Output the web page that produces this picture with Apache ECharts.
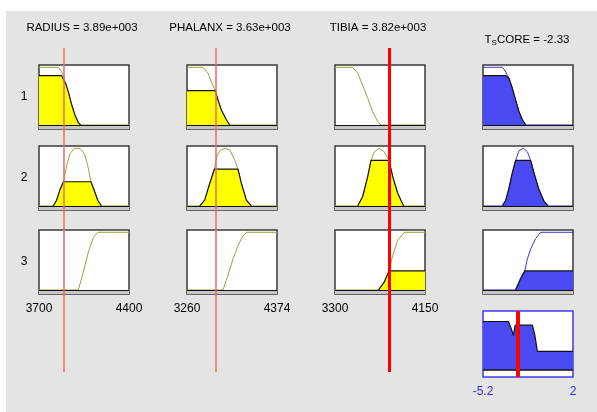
<!DOCTYPE html>
<html>
<head>
<meta charset="utf-8">
<script src="https://cdn.jsdelivr.net/npm/echarts@6/dist/echarts.min.js"></script>
<style>
  body { margin: 0; background: #fff; }
  #bg { position: absolute; left: 6px; top: 11px; width: 591px; height: 401px; background: #e4e4e4; }
  #chart { position: absolute; left: 0; top: 0; width: 597px; height: 412px; }
</style>
</head>
<body>
<div id="bg"></div>
<div id="chart"></div>
<script>
// input / output ranges
const radiusRange = [3700, 4400]
const phalanxRange = [3260, 4374]
const tibiaRange = [3300, 4150]
const scoreRange = [-5.2, 2]

const titles = ['RADIUS = 3.89e+003', 'PHALANX = 3.63e+003', 'TIBIA = 3.82e+003']
const outTitle = ['T', 'S', 'CORE = -2.33']
const ruleLabels = ['1', '2', '3']

// crisp values (red lines)
const inputValues = [3890, 3610, 3810]
const outputValue = -2.4

// firing level of each rule, per variable
const radiusLevels = [0.855, 0.42, 0]
const phalanxLevels = [0.595, 0.64, 0]
const tibiaLevels = [0, 0.79, 0.33]
const scoreLevels = [0.855, 0.79, 0.33]

// membership functions
const radiusMF1 = [[3700, 1], [3850, 1], [3876, 0.925], [3890, 0.855], [3910, 0.7], [3930, 0.56], [3954, 0.35], [3980, 0.17], [4006, 0.04], [4024, 0], [4400, 0]]
const radiusMF2 = [[3700, 0], [3811, 0], [3837, 0.1], [3863, 0.28], [3890, 0.42], [3915, 0.7], [3941, 0.91], [3975, 1], [4019, 1], [4053, 0.91], [4079, 0.7], [4104, 0.42], [4131, 0.26], [4157, 0.1], [4185, 0], [4400, 0]]
const radiusMF3 = [[3700, 0], [4006, 0], [4045, 0.31], [4084, 0.66], [4123, 0.91], [4157, 1], [4400, 1]]

const phalanxMF1 = [[3260, 1], [3458, 1], [3520, 0.9], [3561, 0.75], [3610, 0.595], [3644, 0.43], [3685, 0.26], [3747, 0.09], [3788, 0], [4374, 0]]
const phalanxMF2 = [[3260, 0], [3417, 0], [3479, 0.1], [3541, 0.39], [3600, 0.64], [3630, 0.86], [3665, 0.96], [3727, 1], [3789, 0.97], [3850, 0.8], [3891, 0.64], [3933, 0.39], [3995, 0.1], [4056, 0], [4374, 0]]
const phalanxMF3 = [[3260, 0], [3706, 0], [3768, 0.26], [3830, 0.54], [3891, 0.77], [3953, 0.94], [4003, 1], [4374, 1]]

const tibiaMF1 = [[3300, 1], [3467, 1], [3514, 0.9], [3561, 0.69], [3609, 0.46], [3656, 0.23], [3703, 0.06], [3734, 0], [4150, 0]]
const tibiaMF2 = [[3300, 0], [3514, 0], [3561, 0.16], [3609, 0.51], [3640, 0.79], [3671, 0.94], [3718, 1], [3765, 0.94], [3810, 0.79], [3845, 0.51], [3892, 0.22], [3948, 0], [4150, 0]]
const tibiaMF3 = [[3300, 0], [3712, 0], [3766, 0.14], [3810, 0.33], [3845, 0.6], [3892, 0.86], [3954, 1], [4150, 1]]

const scoreMF1 = [[-5.2, 1], [-3.65, 1], [-3.38, 0.92], [-3.25, 0.855], [-3.12, 0.81], [-2.86, 0.64], [-2.59, 0.43], [-2.32, 0.23], [-2.05, 0.09], [-1.78, 0], [2, 0]]
const scoreMF2 = [[-5.2, 0], [-3.65, 0], [-3.38, 0.1], [-3.12, 0.31], [-2.86, 0.57], [-2.59, 0.79], [-2.32, 0.96], [-1.97, 1], [-1.65, 0.94], [-1.39, 0.79], [-1.12, 0.57], [-0.72, 0.28], [-0.32, 0.08], [0, 0], [2, 0]]
const scoreMF3 = [[-5.2, 0], [-2.59, 0], [-2.19, 0.2], [-1.86, 0.33], [-1.65, 0.54], [-1.39, 0.71], [-0.99, 0.89], [-0.59, 1], [2, 1]]

// aggregated output
const aggregate = [[-5.2, 0.855], [-3.17, 0.855], [-2.93, 0.72], [-2.77, 0.61], [-2.62, 0.79], [-1.25, 0.79], [-1.04, 0.6], [-0.85, 0.33], [2, 0.33]]

const olive = '#a29e3e'
const blueLine = '#3c3cc8'
const yellow = '#ffff00'
const blue = '#4a4af2'
const font = '"Liberation Sans", Arial, sans-serif'

const columns = [
  { range: radiusRange, mfs: [radiusMF1, radiusMF2, radiusMF3], levels: radiusLevels, line: olive, fill: yellow, out: false },
  { range: phalanxRange, mfs: [phalanxMF1, phalanxMF2, phalanxMF3], levels: phalanxLevels, line: olive, fill: yellow, out: false },
  { range: tibiaRange, mfs: [tibiaMF1, tibiaMF2, tibiaMF3], levels: tibiaLevels, line: olive, fill: yellow, out: false },
  { range: scoreRange, mfs: [scoreMF1, scoreMF2, scoreMF3], levels: scoreLevels, line: blueLine, fill: blue, out: true }
]

const colLeft = [39, 187, 335, 483]
const rowTop = [65, 146, 230]
const W = 90
const H = 64

// clip a membership function at the rule's firing level
function clipped(points, level) {
  const pts = points.map(p => [p[0], Math.min(p[1], level)])
  let first = pts.findIndex(p => p[1] > 0)
  let last = -1
  pts.forEach((p, i) => { if (p[1] > 0) last = i })
  return pts.slice(Math.max(first - 1, 0), last + 2)
}

function edgeLabels(lo, hi, color) {
  return {
    show: true,
    showMinLabel: true,
    showMaxLabel: true,
    margin: 9,
    color: color,
    fontSize: 12,
    fontFamily: font,
    formatter: v => (v === lo || v === hi ? String(v) : '')
  }
}

const grid = []
const xAxis = []
const yAxis = []
const series = []

columns.forEach((col, c) => {
  col.mfs.forEach((mf, r) => {
    const i = grid.length
    grid.push({
      left: colLeft[c], top: rowTop[r], width: W, height: H,
      show: true, backgroundColor: '#fff', borderColor: '#3a3a3a', borderWidth: 1.5
    })
    const showLabels = r === 2 && !col.out
    xAxis.push({
      gridIndex: i, type: 'value', min: col.range[0], max: col.range[1],
      show: showLabels,
      axisLine: { show: false }, axisTick: { show: false }, splitLine: { show: false },
      axisLabel: edgeLabels(col.range[0], col.range[1], '#000')
    })
    yAxis.push({ gridIndex: i, type: 'value', min: -0.07, max: 1.04, show: false })

    // baseline band
    series.push({
      type: 'line', xAxisIndex: i, yAxisIndex: i, data: [], z: col.out ? 1 : 5, silent: true,
      markArea: { silent: true, itemStyle: { color: '#c6c6c6' }, data: [[{ yAxis: -0.07 }, { yAxis: 0 }]] },
      markLine: { silent: true, symbol: 'none', label: { show: false }, lineStyle: { color: '#111', width: 1.2, type: 'solid' }, data: [{ yAxis: 0 }] }
    })
    // membership function
    series.push({
      type: 'line', xAxisIndex: i, yAxisIndex: i, data: mf, symbol: 'none', z: 3, silent: true,
      lineStyle: { color: col.line, width: 1 }
    })
    // clipped area
    const level = col.levels[r]
    if (level > 0) {
      series.push({
        type: 'line', xAxisIndex: i, yAxisIndex: i, data: clipped(mf, level), symbol: 'none', z: 4, silent: true,
        lineStyle: { color: '#111', width: 1.2 },
        areaStyle: { color: col.fill, opacity: 1 }
      })
    }
  })
})

// aggregated output panel
const ag = grid.length
grid.push({ left: 483, top: 311, width: W, height: 66, show: true, backgroundColor: '#fff', borderColor: '#3c3cf0', borderWidth: 1.5 })
xAxis.push({
  gridIndex: ag, type: 'value', min: scoreRange[0], max: scoreRange[1],
  axisLine: { show: false }, axisTick: { show: false }, splitLine: { show: false },
  axisLabel: edgeLabels(scoreRange[0], scoreRange[1], '#3030d8')
})
yAxis.push({ gridIndex: ag, type: 'value', min: -0.123, max: 1.04, show: false })
series.push({
  type: 'line', xAxisIndex: ag, yAxisIndex: ag, data: aggregate, symbol: 'none', z: 4, silent: true,
  lineStyle: { color: '#111', width: 1.2 },
  areaStyle: { color: blue, opacity: 1 },
  markLine: {
    silent: true, symbol: 'none', label: { show: false },
    data: [
      { yAxis: 0, lineStyle: { color: '#111', width: 1.5, type: 'solid' } },
      { xAxis: outputValue, lineStyle: { color: '#ff0000', width: 4, type: 'solid' } }
    ]
  }
})

// red input lines, running through all three rule rows
inputValues.forEach((v, c) => {
  const i = grid.length
  grid.push({ left: colLeft[c], top: 48, width: W, height: 324, show: false })
  xAxis.push({ gridIndex: i, type: 'value', min: columns[c].range[0], max: columns[c].range[1], show: false })
  yAxis.push({ gridIndex: i, type: 'value', min: 0, max: 1, show: false })
  series.push({
    type: 'line', xAxisIndex: i, yAxisIndex: i, data: [], z: 10, silent: true,
    markLine: {
      silent: true, symbol: 'none', label: { show: false },
      lineStyle: c === 2 ? { color: '#ff0000', width: 3, type: 'solid' } : { color: '#f06868', width: 1.5, type: 'solid' },
      data: [{ xAxis: v }]
    }
  })
})

// texts
const graphic = []
const titleX = [82, 230, 378]
titles.forEach((t, c) => {
  graphic.push({
    type: 'text', x: titleX[c], y: 28, silent: true,
    style: { text: t, font: '11.5px ' + font, fill: '#000', align: 'center', verticalAlign: 'middle' }
  })
})
graphic.push({
  type: 'text', x: 527, y: 40, silent: true,
  style: {
    text: '{a|' + outTitle[0] + '}{s|' + outTitle[1] + '}{a|' + outTitle[2] + '}',
    align: 'center', verticalAlign: 'middle',
    rich: {
      a: { fontSize: 11.5, fontFamily: font, color: '#000', lineHeight: 14 },
      s: { fontSize: 8, fontFamily: font, color: '#000', lineHeight: 8, verticalAlign: 'bottom', padding: [8, 0, 0, 0] }
    }
  }
})
ruleLabels.forEach((t, r) => {
  graphic.push({
    type: 'text', x: 24, y: rowTop[r] + 32, silent: true,
    style: { text: t, font: '12px ' + font, fill: '#000', align: 'center', verticalAlign: 'middle' }
  })
})

const chart = echarts.init(document.getElementById('chart'))
chart.setOption({
  animation: false,
  backgroundColor: 'transparent',
  grid, xAxis, yAxis, series, graphic
})
</script>
</body>
</html>
